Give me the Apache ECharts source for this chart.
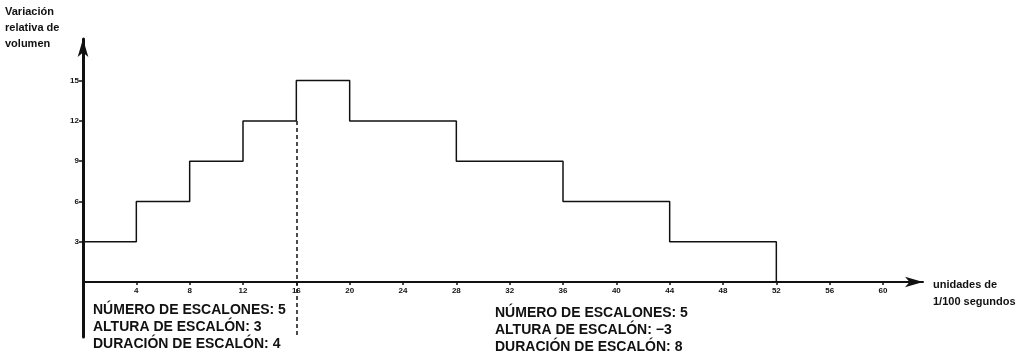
<!DOCTYPE html>
<html>
<head>
<meta charset="utf-8">
<script src="https://cdn.jsdelivr.net/npm/echarts@6/dist/echarts.min.js"></script>
<style>
  html, body { margin: 0; padding: 0; background: #fff; }
  #chart { width: 1021px; height: 355px; }
</style>
</head>
<body>
<div id="chart"></div>
<script>
// step start times (1/100 s) and the level held from each start
const stepStarts = [0, 4, 8, 12, 16, 20, 28, 36, 44, 52]
const stepLevels = [3, 6, 9, 12, 15, 12, 9, 6, 3, 0]
const xTicks = [4, 8, 12, 16, 20, 24, 28, 32, 36, 40, 44, 48, 52, 56, 60]
const yTicks = [3, 6, 9, 12, 15]
const peakTime = 16
const peakBase = 12

const leftNotes = ['NÚMERO DE ESCALONES: 5', 'ALTURA DE ESCALÓN: 3', 'DURACIÓN DE ESCALÓN: 4']
const rightNotes = ['NÚMERO DE ESCALONES: 5', 'ALTURA DE ESCALÓN: −3', 'DURACIÓN DE ESCALÓN: 8']

const font = '"Liberation Sans", Arial, sans-serif'
const yMin = -4.1
const yMax = 18.1
const chart = echarts.init(document.getElementById('chart'))

const noteText = (lines, x, y) => ({
  type: 'text',
  left: x,
  top: y,
  style: {
    text: lines.join('\n'),
    font: 'bold 14px ' + font,
    lineHeight: 17,
    fill: '#111'
  }
})

chart.setOption({
  animation: false,
  grid: { left: 83, right: 98, top: 39, bottom: 18, containLabel: false },
  xAxis: {
    type: 'value',
    min: 0,
    max: 63,
    position: 'bottom',
    offset: -55, // x axis sits at y = 0, the y axis runs on below it
    name: 'unidades de\n1/100 segundos',
    nameLocation: 'end',
    nameGap: 10,
    nameTextStyle: {
      color: '#111',
      fontFamily: font,
      fontWeight: 'bold',
      fontSize: 11,
      lineHeight: 17,
      align: 'left',
      verticalAlign: 'top',
      padding: [-6, 0, 0, 0]
    },
    splitLine: { show: false },
    axisLine: {
      onZero: false,
      symbol: ['none', 'arrow'],
      symbolSize: [8, 18],
      lineStyle: { color: '#111', width: 2 }
    },
    axisTick: { customValues: xTicks, length: 3, lineStyle: { color: '#111', width: 1.5 } },
    axisLabel: {
      customValues: xTicks,
      color: '#111',
      fontFamily: font,
      fontWeight: 'bold',
      fontSize: 8,
      margin: 5
    }
  },
  yAxis: {
    type: 'value',
    min: yMin,
    max: yMax,
    splitLine: { show: false },
    axisLine: {
      show: true,
      onZero: false,
      symbol: ['none', 'arrow'],
      symbolSize: [8, 18],
      lineStyle: { color: '#111', width: 3 }
    },
    axisTick: { customValues: yTicks, length: 4, lineStyle: { color: '#111', width: 1.5 } },
    axisLabel: {
      customValues: yTicks,
      color: '#111',
      fontFamily: font,
      fontWeight: 'bold',
      fontSize: 8,
      margin: 4
    }
  },
  series: [{
    type: 'line',
    step: 'end',
    symbol: 'none',
    data: stepStarts.map((t, i) => [t, stepLevels[i]]),
    lineStyle: { color: '#111', width: 1.5 },
    markLine: {
      silent: true,
      symbol: 'none',
      label: { show: false },
      lineStyle: { color: '#111', type: [4, 3], width: 1.5 },
      data: [[{ coord: [peakTime, peakBase] }, { coord: [peakTime, yMin] }]]
    }
  }],
  graphic: [
    {
      type: 'text',
      left: 5,
      top: 4,
      style: {
        text: 'Variación\nrelativa de\nvolumen',
        font: 'bold 11px ' + font,
        lineHeight: 16,
        fill: '#111'
      }
    },
    noteText(leftNotes, 93, 302),
    noteText(rightNotes, 495, 305)
  ]
})
</script>
</body>
</html>
